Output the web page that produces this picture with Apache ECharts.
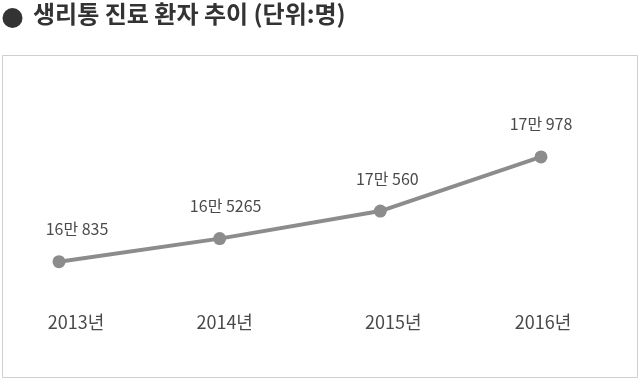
<!DOCTYPE html>
<html><head><meta charset="utf-8">
<script src="https://cdn.jsdelivr.net/npm/echarts@6/dist/echarts.min.js"></script>
<style>html,body{margin:0;padding:0;background:#fff}#c{width:640px;height:386px}</style>
</head><body><div id="c"></div>
<script>
const titleText = '생리통 진료 환자 추이 (단위:명)';
const years = ['2013년', '2014년', '2015년', '2016년'];
// vertical positions (the 2016 point sits well above 2015)
const values = [160835, 165265, 170560, 180978];
// point labels exactly as printed on the chart
const pointLabels = ['16만 835', '16만 5265', '17만 560', '17만 978'];

const FONT = '"Noto Sans CJK KR", "Noto Sans", sans-serif';
const labelPad = [34, 10, 26, 4];
const pointLabelShift = [18, 6, 7, 0];
const chart = echarts.init(document.getElementById('c'), null, {renderer: 'canvas'});
const rich = {};
labelPad.forEach((p, i) => { rich['r' + i] = {padding: [0, 0, 0, p], color: '#4a4a4a', fontSize: 18, fontFamily: FONT}; });
chart.setOption({
  backgroundColor: '#fff',
  animation: false,
  graphic: [
    {type: 'rect', shape: {x: 2.5, y: 55.5, width: 635, height: 322}, style: {fill: '#fff', stroke: '#cfcfcf', lineWidth: 1}, z: -10},
    {type: 'circle', shape: {cx: 12.5, cy: 18, r: 10}, style: {fill: '#333'}},
    {type: 'text', left: 33, top: 2, style: {text: titleText, font: 'bold 24px ' + FONT, fill: '#333'}}
  ],
  grid: {left: 59, right: 99, top: 110, bottom: 81},
  xAxis: {
    type: 'category', data: years, boundaryGap: false,
    axisLine: {show: false}, axisTick: {show: false}, splitLine: {show: false},
    axisLabel: {
      margin: 8, color: '#4a4a4a', fontSize: 18, fontFamily: FONT,
      formatter: function (v, i) { return '{r' + i + '|' + v + '}'; },
      rich: rich
    }
  },
  yAxis: {type: 'value', min: 152500, max: 190000, show: false, splitLine: {show: false}},
  series: [{
    type: 'line',
    data: values.map((v, i) => ({
      value: v,
      label: {offset: [pointLabelShift[i], 0]}
    })),
    lineStyle: {color: '#8c8c8c', width: 4},
    itemStyle: {color: '#8c8c8c'},
    symbol: 'circle', symbolSize: 13,
    label: {
      show: true, position: 'top', distance: 18,
      color: '#4a4a4a', fontSize: 16, fontFamily: FONT,
      formatter: p => pointLabels[p.dataIndex]
    }
  }]
});
</script></body></html>
